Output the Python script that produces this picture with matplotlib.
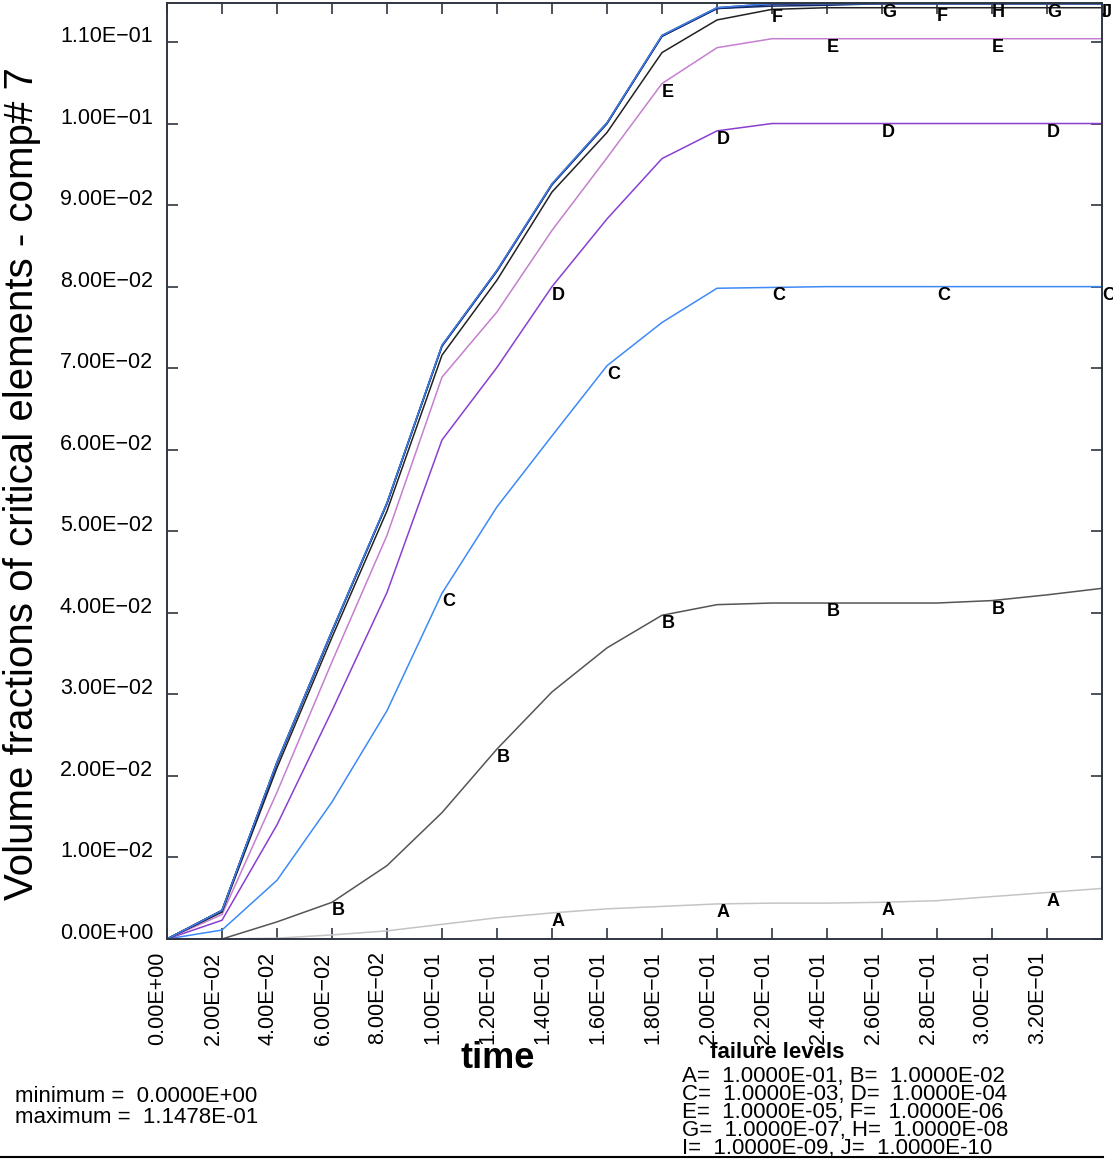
import matplotlib
matplotlib.use('Agg')
import matplotlib.pyplot as plt
import matplotlib.transforms as mtransforms
from matplotlib.lines import Line2D

# data (time steps of 0.02)
time = [0.00, 0.02, 0.04, 0.06, 0.08, 0.10, 0.12, 0.14, 0.16, 0.18,
        0.20, 0.22, 0.24, 0.26, 0.28, 0.30, 0.32, 0.34]
A = [0.0, 0.0, 0.0001, 0.0005, 0.0010, 0.0018, 0.0026, 0.0032, 0.0037, 0.0040,
     0.0043, 0.0044, 0.0044, 0.0045, 0.0047, 0.0052, 0.0057, 0.0062]
B = [0.0, 0.0, 0.0021, 0.0045, 0.0090, 0.0155, 0.0233, 0.0303, 0.0357, 0.0397,
     0.0410, 0.0412, 0.0412, 0.0412, 0.0412, 0.0415, 0.0422, 0.0430]
C = [0.0, 0.0011, 0.0072, 0.0168, 0.0280, 0.0424, 0.0530, 0.0617, 0.0703, 0.0756,
     0.0798, 0.0799, 0.0800, 0.0800, 0.0800, 0.0800, 0.0800, 0.0800]
D = [0.0, 0.0023, 0.0140, 0.0280, 0.0425, 0.0612, 0.0701, 0.0800, 0.0883, 0.0957,
     0.0991, 0.1000, 0.1000, 0.1000, 0.1000, 0.1000, 0.1000, 0.1000]
E = [0.0, 0.0030, 0.0180, 0.0340, 0.0495, 0.0689, 0.0769, 0.0869, 0.0958, 0.1049,
     0.1093, 0.1104, 0.1104, 0.1104, 0.1104, 0.1104, 0.1104, 0.1104]
F = [0.0, 0.0033, 0.0210, 0.0370, 0.0525, 0.0716, 0.0808, 0.0916, 0.0989, 0.1087,
     0.1127, 0.1140, 0.1142, 0.1142, 0.1142, 0.1142, 0.1142, 0.1142]
G = [0.0, 0.0035, 0.0216, 0.0377, 0.0534, 0.0727, 0.0819, 0.0925, 0.1000, 0.1107,
     0.1141, 0.1146, 0.1147, 0.1147, 0.1147, 0.1147, 0.1147, 0.1147]
H = [0.0, 0.0035, 0.0216, 0.0377, 0.0534, 0.0727, 0.0819, 0.0925, 0.1000, 0.1107,
     0.1141, 0.1144, 0.1145, 0.1147, 0.1147, 0.1147, 0.1147, 0.1147]
I = [0.0, 0.0035, 0.0217, 0.0378, 0.0535, 0.0728, 0.0820, 0.0926, 0.1001, 0.1108,
     0.1142, 0.1147, 0.1147, 0.1147, 0.1147, 0.1147, 0.1147, 0.1147]
J = [0.0, 0.0035, 0.0217, 0.0378, 0.0535, 0.0728, 0.0820, 0.0926, 0.1001, 0.1108,
     0.1142, 0.1147, 0.1147, 0.1147, 0.1147, 0.1147, 0.1147, 0.1147]

names = ['A', 'B', 'C', 'D', 'E', 'F', 'G', 'H', 'I', 'J']
series = [A, B, C, D, E, F, G, H, I, J]
colors = ['#c4c4c4', '#555555', '#3d8af7', '#8a3fd1', '#c67fd0', '#222222',
          '#1a1a80', '#102a6a', '#222222', '#3d7ff0']
# x positions where the curve letters are written
label_x = {'A': [0.14, 0.20, 0.26, 0.32], 'B': [0.06, 0.12, 0.18, 0.24, 0.30],
           'C': [0.10, 0.16, 0.22, 0.28, 0.34], 'D': [0.14, 0.20, 0.26, 0.32],
           'E': [0.18, 0.24, 0.30], 'F': [0.22, 0.28], 'G': [0.26, 0.32],
           'H': [0.30], 'I': [0.34], 'J': [0.34]}

levels = ['1.0000E-01', '1.0000E-02', '1.0000E-03', '1.0000E-04', '1.0000E-05',
          '1.0000E-06', '1.0000E-07', '1.0000E-08', '1.0000E-09', '1.0000E-10']

plt.rcParams['font.family'] = ['Liberation Sans', 'DejaVu Sans']
W, Hh = 1113, 1162
fig = plt.figure(figsize=(W / 100, Hh / 100), dpi=100)


def fx(px):
    return px / W


def fy(py):
    return 1 - py / Hh


ax = fig.add_axes([fx(167), fy(939), fx(1102) - fx(167), fy(3) - fy(939)])

for nm, s, c in zip(names, series, colors):
    ax.plot(time, s, color=c, lw=1.1)

for nm, s in zip(names, series):
    for xv in label_x[nm]:
        yv = s[time.index(xv)]
        ax.text(xv, yv, nm, ha='left', va='top', fontsize=13, fontweight='bold',
                color='black', clip_on=False)

ax.set_xlim(0, 0.34)
ax.set_ylim(0, 0.11478)

xt = time[:-1]
ax.set_xticks(xt)
ax.set_xticklabels(['{:.2E}'.format(v).replace('-', '\u2212') for v in xt],
                   rotation=90, fontsize=15.5)
yt = [i * 0.01 for i in range(12)]
ax.set_yticks(yt)
ax.set_yticklabels(['{:.2E}'.format(v).replace('-', '\u2212') for v in yt],
                   fontsize=15.5)
ax.tick_params(direction='in', length=8, width=1.2, top=True, right=True,
               color='#2f3640')
ax.tick_params(axis='x', pad=9)
ax.tick_params(axis='y', pad=10)
for lab in ax.get_yticklabels():
    lab.set_va('baseline')
off = mtransforms.ScaledTranslation(-9 / 100, 0, fig.dpi_scale_trans)
for lab in ax.get_xticklabels():
    lab.set_transform(lab.get_transform() + off)
for sp in ax.spines.values():
    sp.set_color('#2f3640')
    sp.set_linewidth(1.4)

fig.text(fx(22), fy(484), 'Volume fractions of critical elements - comp# 7',
         rotation=90, ha='center', va='center', fontsize=29)
fig.text(fx(498), fy(1058), 'time', ha='center', va='center', fontsize=26,
         fontweight='bold')

fig.text(fx(15), fy(1107), 'minimum =  0.0000E+00\nmaximum =  1.1478E-01',
         ha='left', va='center', fontsize=16, linespacing=1.05)

fig.text(fx(777), fy(1052), 'failure levels', ha='center', va='center',
         fontsize=16, fontweight='bold')
lines = []
for k in range(5):
    a, b = 2 * k, 2 * k + 1
    lines.append('{}=  {}, {}=  {}'.format(names[a], levels[a], names[b], levels[b]))
fig.text(fx(682), fy(1112.5), '\n'.join(lines), ha='left', va='center',
         fontsize=16, linespacing=0.8)

fig.add_artist(Line2D([0, fx(1103)], [fy(1157), fy(1157)], color='black', lw=1.5))

fig.savefig('out.png', dpi=100)
plt.close()
